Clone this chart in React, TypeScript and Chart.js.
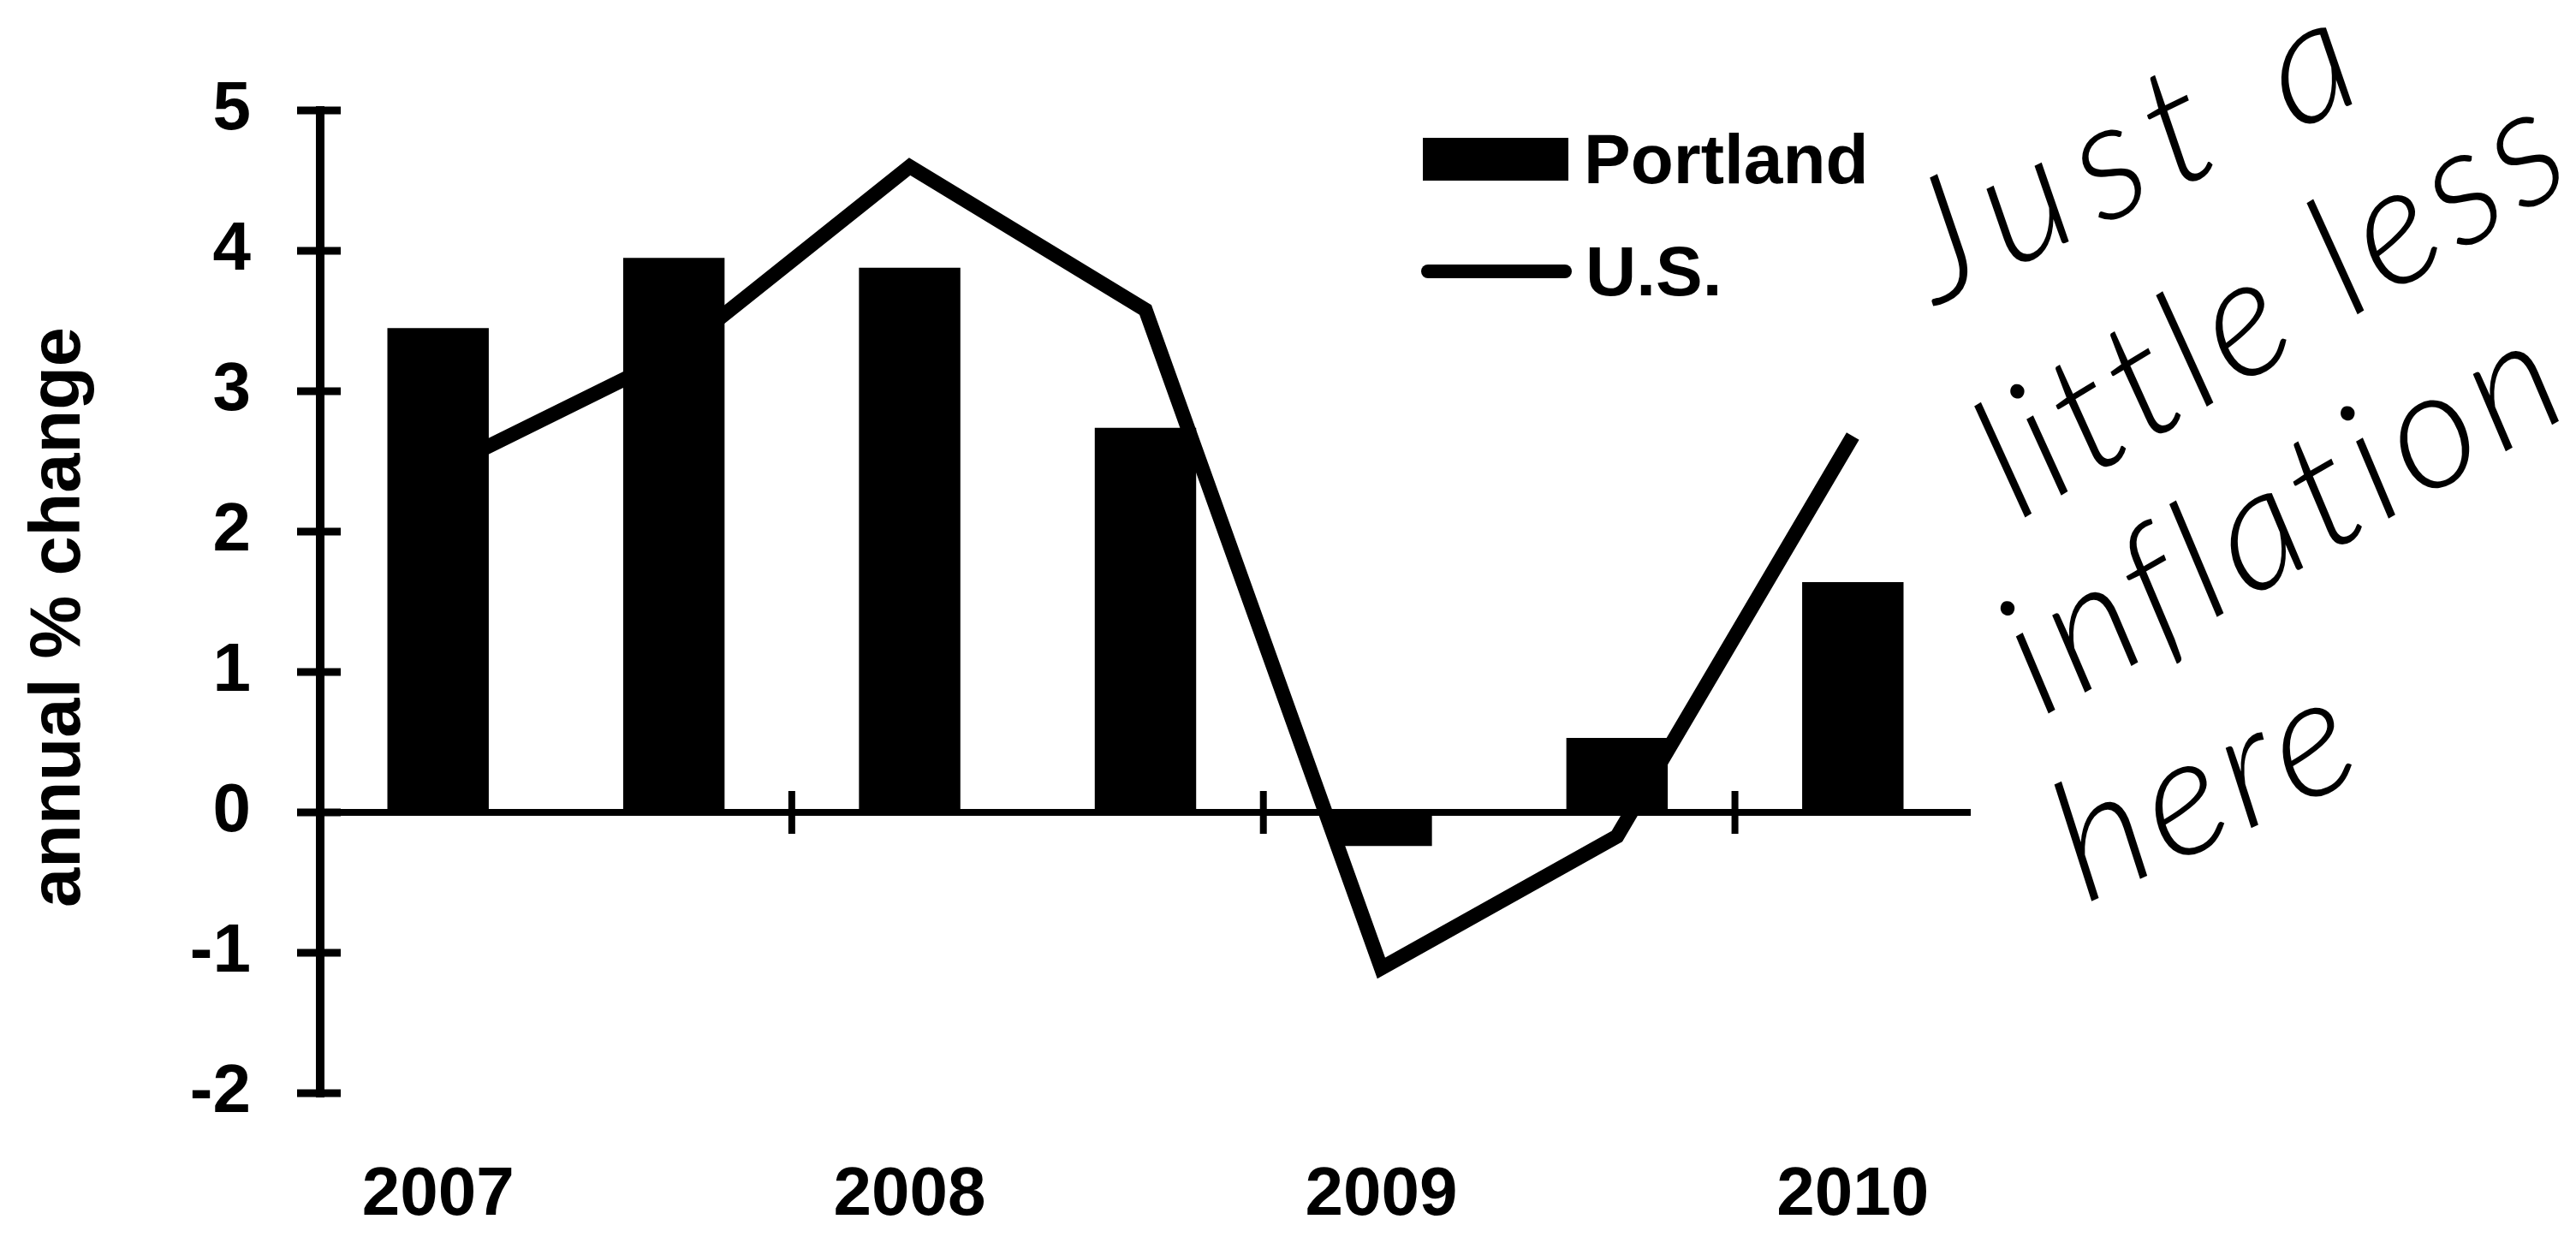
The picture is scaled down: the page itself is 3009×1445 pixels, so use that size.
import { useEffect, useRef } from "react";
import { Chart, registerables } from "chart.js";

Chart.register(...registerables);

// ---------- data ----------
const categories = ["2007 H1", "2007 H2", "2008 H1", "2008 H2", "2009 H1", "2009 H2", "2010 H1"];
const tickLabels = ["2007", "", "2008", "", "2009", "", "2010"];
const portland = [3.45, 3.95, 3.88, 2.74, -0.24, 0.53, 1.64];
const us = [2.43, 3.26, 4.6, 3.58, -1.11, -0.17, 2.68];
const yTicks = [-2, -1, 0, 1, 2, 3, 4, 5];
const seriesNames = ["Portland", "U.S."];
const yTitle = "annual % change";
const noteLines = ["Just a", "little less", "inflation", "here"];

const FONT = '"Liberation Sans", Arial, sans-serif';

const axesPlugin = {
  id: "customAxes",
  afterDatasetsDraw(chart: any) {
    const { ctx, chartArea, scales } = chart;
    const x = scales.x;
    const y = scales.y;
    const ax = chartArea.left;
    const yTop = y.getPixelForValue(yTicks[yTicks.length - 1]);
    const yBot = y.getPixelForValue(yTicks[0]);
    const y0 = y.getPixelForValue(0);
    ctx.save();
    ctx.fillStyle = "#000";
    ctx.fillRect(ax - 5, yTop - 5, 10, yBot - yTop + 10);
    yTicks.forEach((v) => {
      const py = y.getPixelForValue(v);
      ctx.fillRect(ax - 27, py - 4.5, 51, 9);
    });
    ctx.fillRect(ax - 26, y0 - 4, chartArea.right - ax + 26, 8);
    for (let k = 2; k < categories.length; k += 2) {
      const px = (x.getPixelForValue(k - 1) + x.getPixelForValue(k)) / 2;
      ctx.fillRect(px - 4, y0 - 25, 8, 50);
    }
    ctx.restore();
  },
};

const decorPlugin = {
  id: "decor",
  afterDraw(chart: any) {
    const { ctx } = chart;
    ctx.save();
    ctx.fillStyle = "#000";
    ctx.strokeStyle = "#000";

    // y-axis title
    ctx.save();
    ctx.font = `bold 83px ${FONT}`;
    ctx.textAlign = "center";
    ctx.textBaseline = "alphabetic";
    ctx.translate(93, 721);
    ctx.rotate(-Math.PI / 2);
    ctx.fillText(yTitle, 0, 0);
    ctx.restore();

    // legend
    ctx.font = `bold 82px ${FONT}`;
    ctx.textAlign = "left";
    ctx.textBaseline = "alphabetic";
    ctx.fillRect(1662, 161, 170, 50);
    ctx.fillText(seriesNames[0], 1850, 214);
    ctx.lineWidth = 16;
    ctx.lineCap = "round";
    ctx.beginPath();
    ctx.moveTo(1668, 317);
    ctx.lineTo(1828, 317);
    ctx.stroke();
    ctx.fillText(seriesNames[1], 1852, 345);

    // handwritten note
    const geom = [
      { x0: 2262, y0: 357, x1: 2767, y1: 112, size: 195 },
      { x0: 2358, y0: 609, x1: 3003, y1: 215, size: 195 },
      { x0: 2385, y0: 838, x1: 3006, y1: 482, size: 195 },
      { x0: 2436, y0: 1056, x1: 2765, y1: 905, size: 195 },
    ];
    noteLines.forEach((t, i) => {
      const g = geom[i];
      const dx = g.x1 - g.x0;
      const dy = g.y1 - g.y0;
      const len = Math.sqrt(dx * dx + dy * dy);
      ctx.save();
      ctx.font = `italic 300 ${g.size}px Lato, "DejaVu Sans", sans-serif`;
      ctx.textAlign = "left";
      ctx.textBaseline = "alphabetic";
      (ctx as any).letterSpacing = "0px";
      const w = ctx.measureText(t).width;
      ctx.translate(g.x0, g.y0);
      ctx.rotate(Math.atan2(dy, dx));
      const extra = (len - w) / Math.max(1, t.length - 1);
      if ("letterSpacing" in ctx && extra > -20) {
        (ctx as any).letterSpacing = `${extra.toFixed(1)}px`;
      } else {
        ctx.scale(len / w, 1);
      }
      ctx.fillText(t, 0, 0);
      ctx.restore();
    });
    ctx.restore();
  },
};

export default function App() {
  const ref = useRef<HTMLCanvasElement>(null);
  useEffect(() => {
    document.body.style.margin = "0";
    const chart = new Chart(ref.current as HTMLCanvasElement, {
      type: "bar",
      data: {
        labels: categories,
        datasets: [
          {
            type: "line",
            label: seriesNames[1],
            data: us,
            borderColor: "#000",
            backgroundColor: "#000",
            borderWidth: 17,
            pointRadius: 0,
            tension: 0,
            borderJoinStyle: "miter",
            fill: false,
            order: 2,
          } as any,
          {
            type: "bar",
            label: seriesNames[0],
            data: portland,
            backgroundColor: "#000",
            borderWidth: 0,
            barPercentage: 0.43,
            categoryPercentage: 1.0,
            order: 1,
          } as any,
        ],
      },
      options: {
        responsive: false,
        animation: false,
        devicePixelRatio: 1,
        layout: { padding: { top: 120, right: 707, left: 0, bottom: 0 } },
        plugins: {
          legend: { display: false },
          tooltip: { enabled: false },
          title: { display: false },
        },
        scales: {
          x: {
            grid: { display: false, drawTicks: false },
            border: { display: false },
            ticks: {
              autoSkip: false,
              maxRotation: 0,
              minRotation: 0,
              padding: 72,
              color: "#000",
              font: { family: FONT, weight: "bold", size: 80 },
              callback: (_v: any, i: number) => tickLabels[i],
            },
            afterFit: (s: any) => {
              s.height = 168;
            },
          },
          y: {
            min: yTicks[0],
            max: yTicks[yTicks.length - 1],
            grid: { display: false, drawTicks: false },
            border: { display: false },
            afterBuildTicks: (s: any) => {
              s.ticks = yTicks.map((v) => ({ value: v }));
            },
            ticks: {
              padding: 81,
              color: "#000",
              font: { family: FONT, weight: "bold", size: 80 },
            },
            afterFit: (s: any) => {
              s.width = 374;
            },
          },
        },
      } as any,
      plugins: [axesPlugin, decorPlugin],
    });
    return () => chart.destroy();
  }, []);
  return (
    <div style={{ width: 3009, height: 1445 }}>
      <canvas ref={ref} width={3009} height={1445} style={{ display: "block" }} />
    </div>
  );
}
